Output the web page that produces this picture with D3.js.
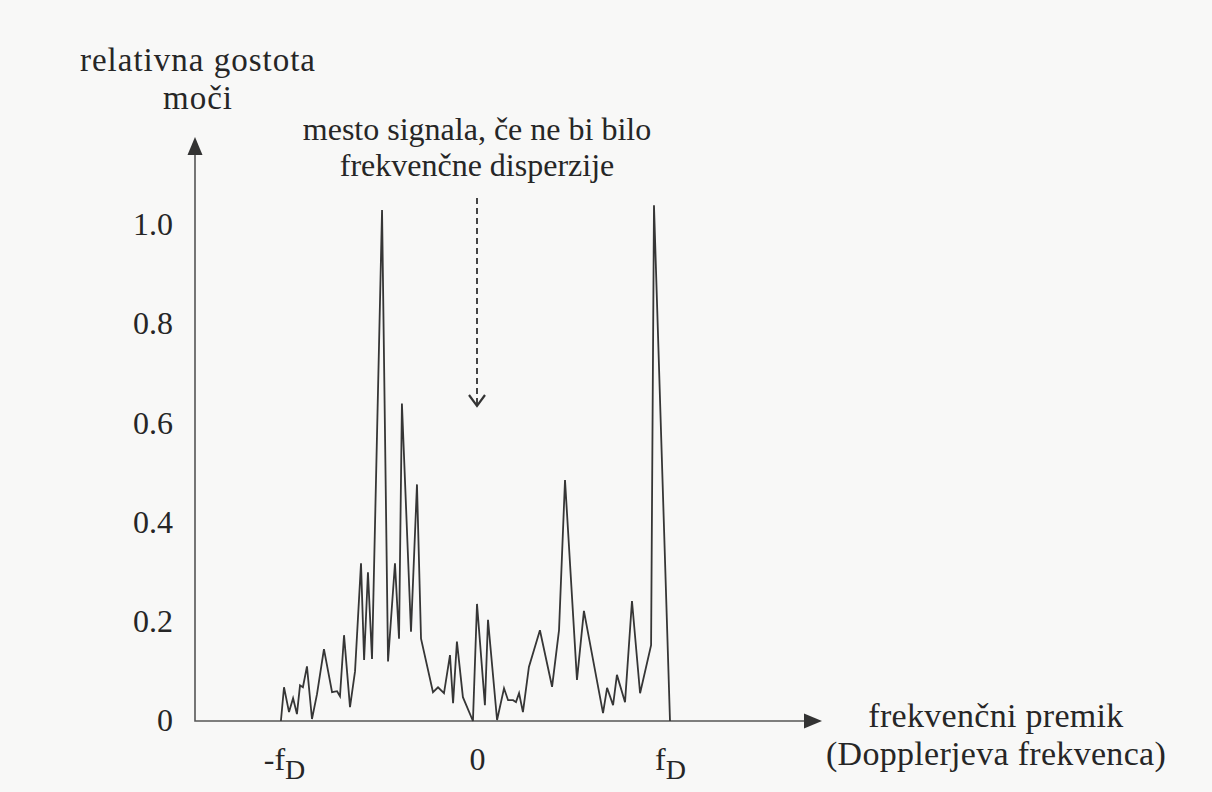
<!DOCTYPE html>
<html>
<head>
<meta charset="utf-8">
<script src="https://cdn.jsdelivr.net/npm/d3@7"></script>
<style>
  body { margin: 0; background: #f8f8f7; }
  svg { display: block; }
  text { font-family: "Liberation Serif", "DejaVu Serif", serif; fill: #262626; }
</style>
</head>
<body>
<div id="chart"></div>
<script>
// frequency in units of fD (Doppler shift), power relative to the main peak
var freq = [-1.016, -1.000, -0.974, -0.953, -0.933, -0.917, -0.902, -0.881, -0.855, -0.829,
            -0.793, -0.751, -0.725, -0.710, -0.689, -0.658, -0.632, -0.601, -0.585, -0.565,
            -0.544, -0.492, -0.461, -0.425, -0.404, -0.389, -0.342, -0.311, -0.290, -0.228,
            -0.202, -0.171, -0.140, -0.124, -0.104, -0.073, -0.021, 0.000, 0.041, 0.057,
            0.104, 0.140, 0.161, 0.187, 0.202, 0.218, 0.238, 0.269, 0.326, 0.389,
            0.425, 0.456, 0.518, 0.554, 0.653, 0.674, 0.705, 0.725, 0.767, 0.803,
            0.845, 0.902, 0.917, 1.000];
var power = [0, 0.068, 0.018, 0.046, 0.014, 0.072, 0.068, 0.11, 0.004, 0.054,
             0.145, 0.058, 0.06, 0.05, 0.173, 0.028, 0.1, 0.318, 0.123, 0.3,
             0.125, 1.03, 0.12, 0.318, 0.166, 0.64, 0.18, 0.477, 0.166, 0.058,
             0.068, 0.056, 0.133, 0.036, 0.16, 0.048, 0, 0.236, 0.032, 0.204,
             0.002, 0.066, 0.042, 0.042, 0.038, 0.056, 0.018, 0.109, 0.183, 0.069,
             0.183, 0.486, 0.083, 0.222, 0.016, 0.067, 0.032, 0.093, 0.038, 0.242,
             0.056, 0.153, 1.04, 0];

var yTicks = [0, 0.2, 0.4, 0.6, 0.8, 1.0];
var xTicks = [-1, 0, 1];
var xTickLabels = [["-f", "D"], ["0", ""], ["f", "D"]];

var yTitle = ["relativna gostota", "moči"];
var xTitle = ["frekvenčni premik", "(Dopplerjeva frekvenca)"];
var note = ["mesto signala, če ne bi bilo", "frekvenčne disperzije"];

var width = 1212, height = 792;
var originX = 195, axisEndX = 822, axisTopY = 137;

var svg = d3.select("#chart")
  .append("svg")
    .attr("width", width)
    .attr("height", height);

var x = d3.scaleLinear().domain([-1, 1]).range([284, 670]);
var y = d3.scaleLinear().domain([0, 1]).range([721, 225]);

// Y axis: labels only, line drawn by hand with the arrow
svg.append("g")
    .attr("transform", "translate(" + originX + ",0)")
    .call(d3.axisLeft(y)
      .tickValues(yTicks)
      .tickSize(0)
      .tickPadding(22)
      .tickFormat(function(d) { return d === 0 ? "0" : d.toFixed(1); }))
    .call(function(g) { g.select(".domain").remove(); })
    .selectAll("text")
      .attr("font-family", null)
      .style("font-size", "32px")
      .attr("dy", "0.3em");

// X axis labels
var xg = svg.append("g")
    .attr("transform", "translate(0," + y(0) + ")")
    .call(d3.axisBottom(x)
      .tickValues(xTicks)
      .tickSize(0)
      .tickPadding(26))
    .call(function(g) { g.select(".domain").remove(); });

xg.selectAll("text")
    .attr("font-family", null)
    .style("font-size", "32px")
    .text(null)
    .each(function(d, i) {
      var t = d3.select(this);
      t.append("tspan").text(xTickLabels[i][0]);
      if (xTickLabels[i][1]) {
        t.append("tspan")
          .attr("dy", "0.32em")
          .style("font-size", "28px")
          .text(xTickLabels[i][1]);
      }
    });

// axis lines
svg.append("path")
    .attr("d", "M" + originX + "," + (axisTopY + 14) + "V" + y(0) + "H" + (axisEndX - 14))
    .attr("fill", "none")
    .attr("stroke", "#555")
    .attr("stroke-width", 1.6);

// arrow heads
svg.append("path")
    .attr("d", "M" + originX + "," + axisTopY + "l-7.5,18h15z")
    .attr("fill", "#333");
svg.append("path")
    .attr("d", "M" + axisEndX + "," + y(0) + "l-18,-7.5v15z")
    .attr("fill", "#333");

// spectrum line
var line = d3.line()
  .x(function(d, i) { return x(freq[i]); })
  .y(function(d) { return y(d); });

svg.append("path")
    .datum(power)
    .attr("fill", "none")
    .attr("stroke", "#363636")
    .attr("stroke-width", 1.8)
    .attr("stroke-linejoin", "miter")
    .attr("d", line);

// dashed arrow to where the signal would be
svg.append("line")
    .attr("x1", x(0)).attr("x2", x(0))
    .attr("y1", 198).attr("y2", 404)
    .attr("stroke", "#444")
    .attr("stroke-width", 2)
    .attr("stroke-dasharray", "6,4");
svg.append("path")
    .attr("d", "M" + (x(0) - 8) + ",395L" + x(0) + ",406L" + (x(0) + 8) + ",395")
    .attr("fill", "none")
    .attr("stroke", "#333")
    .attr("stroke-width", 2.2);

// titles
svg.selectAll(".ytitle")
  .data(yTitle)
  .enter().append("text")
    .attr("class", "ytitle")
    .attr("x", 198)
    .attr("y", function(d, i) { return 71 + i * 38; })
    .attr("text-anchor", "middle")
    .style("font-size", "33px")
    .style("letter-spacing", "1px")
    .text(function(d) { return d; });

svg.selectAll(".note")
  .data(note)
  .enter().append("text")
    .attr("class", "note")
    .attr("x", x(0))
    .attr("y", function(d, i) { return 140 + i * 36; })
    .attr("text-anchor", "middle")
    .style("font-size", "32px")
    .text(function(d) { return d; });

svg.selectAll(".xtitle")
  .data(xTitle)
  .enter().append("text")
    .attr("class", "xtitle")
    .attr("x", 996)
    .attr("y", function(d, i) { return 727 + i * 38; })
    .attr("text-anchor", "middle")
    .style("font-size", "34px")
    .style("letter-spacing", "0.3px")
    .text(function(d) { return d; });
</script>
</body>
</html>
